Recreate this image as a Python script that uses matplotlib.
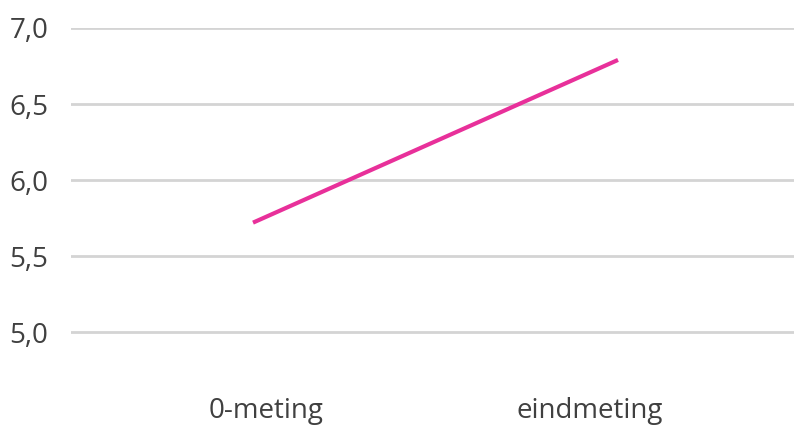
import matplotlib.pyplot as plt
from matplotlib.transforms import ScaledTranslation

categories = ["0-meting", "eindmeting"]
scores = [5.72, 6.79]
y_ticks = [5.0, 5.5, 6.0, 6.5, 7.0]
y_tick_labels = ["5,0", "5,5", "6,0", "6,5", "7,0"]

plt.rcParams['font.family'] = ['Open Sans', 'DejaVu Sans']

fig = plt.figure(figsize=(7.94, 4.33), dpi=100)
ax = fig.add_axes([70.5 / 794, 1 - 396 / 433, 730 / 794, (396 - 28) / 433])

ax.plot(range(len(categories)), scores, color="#e8309a", linewidth=3, solid_capstyle="butt")

ax.set_xlim(-0.5, len(categories) - 0.5)
ax.set_ylim(4.58, 7.0)
ax.set_yticks(y_ticks)
ax.set_yticklabels(y_tick_labels)
ax.set_xticks(range(len(categories)))
ax.set_xticklabels(categories)

ax.grid(axis="y", color="#d4d4d4", linewidth=2)
ax.set_axisbelow(True)
for s in ax.spines.values():
    s.set_visible(False)
ax.tick_params(axis="both", length=0, labelsize=20, colors="#404040")
ax.tick_params(axis="y", pad=16)
ax.tick_params(axis="x", pad=1)

# labels sit a little inward of the category centres in the original
shifts = [13, -28]
for lab, dx in zip(ax.get_xticklabels(), shifts):
    lab.set_transform(lab.get_transform() + ScaledTranslation(dx / 100, 0, fig.dpi_scale_trans))

fig.savefig("out.png", dpi=100)
